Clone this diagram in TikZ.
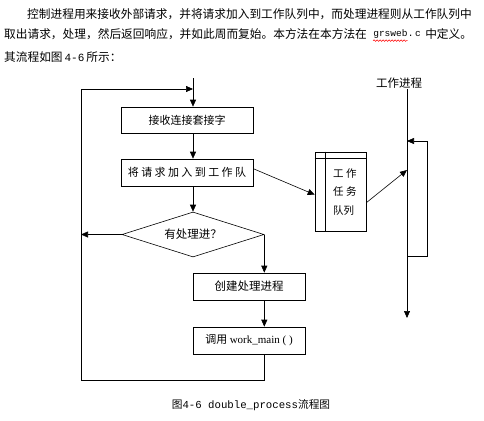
\documentclass[tikz,border=0pt]{standalone}
\usepackage{fontspec}
\setmainfont{Noto Sans CJK SC}
\newfontfamily\lmono{Liberation Mono}
\newfontfamily\lserif{Liberation Serif}
\usetikzlibrary{arrows.meta,shapes.geometric,calc,decorations.pathmorphing}
\begin{document}
\begin{tikzpicture}[x=1pt,y=-1pt,
  txt/.style={inner sep=0pt, anchor=west, font=\fontsize{11.7}{14}\selectfont},
  box/.style={draw, line width=0.6pt, inner sep=0pt, font=\fontsize{11}{13}\selectfont},
  arr/.style={line width=0.6pt, -{Triangle[length=7pt,width=6pt]}},
  ln/.style={line width=0.6pt}]
\useasboundingbox (0,0) rectangle (484,420);

% paragraph
\node[txt] (l1) at (27,14) {控制进程用来接收外部请求，并将请求加入到工作队列中，而处理进程则从工作队列中};
\node[txt] (l2a) at (4,34) {取出请求，处理，然后返回响应，并如此周而复始。本方法在本方法在};
\node[inner sep=0pt, anchor=west, font=\lmono\fontsize{9.5}{11}\selectfont] (gw) at ($(l2a.east)+(6,0)$) {grsweb};
\node[inner sep=0pt, anchor=west, font=\lmono\fontsize{9.5}{11}\selectfont] (gw2) at (gw.east) {.\,c};
\node[txt] (l2c) at ($(gw2.east)+(4,0)$) {中定义。};
\draw[red, line width=0.5pt, decorate, decoration={snake, amplitude=0.8pt, segment length=3pt}]
  ($(gw.south west)+(0,2)$) -- ($(gw.south east)+(0,2)$);
\node[txt] (l3) at (4,57) {其流程如图\,{\lmono\fontsize{11}{13}\selectfont 4-6}\,所示：};

% flow chart
\node[box, minimum width=132pt, minimum height=26pt] (b1) at (187,120) {接收连接套接字};
\node[box, minimum width=132pt, minimum height=27pt] (b2) at (187,172.5)
  {将\kern2.4pt 请\kern2.4pt 求\kern2.4pt 加\kern2.4pt 入\kern2.4pt 到\kern2.4pt 工\kern2.4pt 作\kern2.4pt 队};
\node[draw, line width=0.6pt, diamond, aspect=3.16, inner sep=0pt,
      minimum width=142pt, minimum height=45pt, font=\fontsize{11.5}{13}\selectfont] (dia) at (193,234.5) {有处理进？};
\node[box, minimum width=112pt, minimum height=27pt, font=\fontsize{11.5}{13}\selectfont] (b3) at (249,286.5) {创建处理进程};
\node[box, minimum width=112pt, minimum height=27pt] (b4) at (249,340.5) {调用 {\lserif work\_main ( )}};

% queue
\node[draw, line width=0.6pt, minimum width=51pt, minimum height=79pt, inner sep=0pt] (q) at (340.5,191.5) {};
\draw[ln] ($(q.north west)+(11,0)$) -- ($(q.south west)+(11,0)$);
\draw[ln] ($(q.north west)+(0,7)$) -- ($(q.north east)+(0,7)$);
\node[inner sep=0pt, anchor=west, align=left, font=\fontsize{10.5}{18.5}\selectfont] (qt) at (333,192) {工 作\\任 务\\队列};

% worker process
\node[inner sep=0pt, font=\fontsize{11.5}{13}\selectfont] (wl) at (399,83) {工作进程};
\coordinate (wtop) at (407,89);
\coordinate (wbot) at (407,318);
\draw[arr] (wtop) -- (wbot);
\coordinate (lp1) at (407,256);
\coordinate (lp2) at (407,141);
\draw[arr] (lp1) -- ++(20,0) |- (lp2);
\coordinate (wk) at (407,170);
\draw[arr] ($(q.north east)+(0,51)$) -- (wk);
\draw[arr] ($(b2.north east)+(0,10)$) -- ($(q.north west)+(0,43)$);

% main connectors
\coordinate (mx) at (193,78);
\coordinate (lx) at (81,89);
\coordinate (bot) at (81,380);
\draw[arr] (mx) -- (mx |- b1.north);
\draw[arr] (mx |- b1.south) -- (mx |- b2.north);
\draw[arr] (mx |- b2.south) -- (dia.north);
\draw[arr] (dia.west) -- (dia.west -| lx);
\draw[arr] (dia.east) -- (dia.east |- b3.north);
\draw[arr] (dia.east |- b3.south) -- (dia.east |- b4.north);
\draw[arr] (dia.east |- b4.south) -- (dia.east |- bot) -- (bot) -- (lx) -- (mx |- lx);

% caption
\node[inner sep=0pt, font=\fontsize{10.7}{13}\selectfont] (cap) at (251,405) {图{\lmono 4-6 double\_process}流程图};
\end{tikzpicture}
\end{document}
